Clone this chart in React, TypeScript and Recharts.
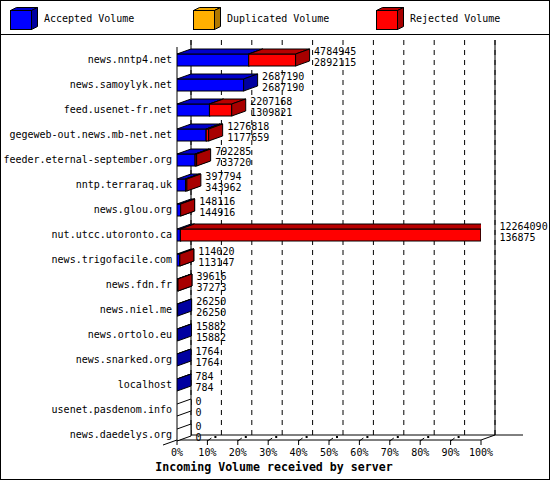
import { BarChart, Bar, XAxis, YAxis, CartesianGrid, LabelList } from "recharts";

const HOSTS = [
    "news.nntp4.net", "news.samoylyk.net", "feed.usenet-fr.net", "gegeweb-out.news.mb-net.net",
    "feeder.eternal-september.org", "nntp.terraraq.uk", "news.glou.org", "nut.utcc.utoronto.ca",
    "news.trigofacile.com", "news.fdn.fr", "news.niel.me", "news.ortolo.eu",
    "news.snarked.org", "localhost", "usenet.pasdenom.info", "news.daedelys.org",
];
const TOTAL = [4784945, 2687190, 2207168, 1276818, 792285, 397794, 148116, 12264090, 114020, 39616, 26250, 15882, 1764, 784, 0, 0];
const ACCEPTED = [2892115, 2687190, 1309821, 1177659, 733720, 343962, 144916, 136875, 113147, 37273, 26250, 15882, 1764, 784, 0, 0];
const DUPLICATED = [0, 0, 0, 0, 0, 0, 0, 0, 0, 0, 0, 0, 0, 0, 0, 0];
const PCT_TICKS = [0, 10, 20, 30, 40, 50, 60, 70, 80, 90, 100];
const TITLE = "Incoming Volume received by server";

const SERIES = [
    { key: "accepted", name: "Accepted Volume", front: "#0000ff", top: "#0000cc", side: "#0000a0" },
    { key: "duplicated", name: "Duplicated Volume", front: "#ffb000", top: "#f0a800", side: "#b07800" },
    { key: "rejected", name: "Rejected Volume", front: "#ff0000", top: "#b80000", side: "#a80000" },
];

const MAX = Math.max(...TOTAL);
const data = HOSTS.map((host, i) => ({
    host,
    total: TOTAL[i],
    accepted: (ACCEPTED[i] / MAX) * 100,
    duplicated: (DUPLICATED[i] / MAX) * 100,
    rejected: ((TOTAL[i] - ACCEPTED[i] - DUPLICATED[i]) / MAX) * 100,
}));

// layout
const W = 550, H = 480;
const Y_AXIS_W = 177;
const MARGIN = { top: 47, right: 69, bottom: 0, left: 0 };
const X_AXIS_H = 33;
const DX = 14, DY = 5;
const BACK_TOP = 40, BACK_BOTTOM = 435, FRONT_BASE = 440;
const PLOT_L = MARGIN.left + Y_AXIS_W;
const PLOT_R = W - MARGIN.right;
const FONT = "'DejaVu Sans Mono', monospace";

function Box3D(p: any) {
    const { x, y, height: h, payload, colors, last } = p;
    const w = Math.max(0, p.width || 0);
    if (!(payload[colors.key] > 0)) {
        if (last && payload.total === 0) {
            return (
                <polygon points={`${x},${y} ${x + DX},${y - DY} ${x + DX},${y + h - DY} ${x},${y + h}`}
                    fill="#fff" stroke="#000" />
            );
        }
        return <g />;
    }
    return (
        <g stroke="#000" strokeWidth={1}>
            {w > 0.5 && <rect x={x} y={y} width={w} height={h} fill={colors.front} />}
            <polygon points={`${x},${y} ${x + DX},${y - DY} ${x + w + DX},${y - DY} ${x + w},${y}`} fill={colors.top} />
            <polygon points={`${x + w},${y} ${x + w + DX},${y - DY} ${x + w + DX},${y + h - DY} ${x + w},${y + h}`} fill={colors.side} />
        </g>
    );
}

function ValueLabel(p: any) {
    const { x, y, width, height, index } = p;
    const tx = x + width + 18.5;
    const cy = y + height / 2;
    return (
        <g fontFamily={FONT} fontSize={10} fill="#000">
            <text x={tx} y={cy - 5.5}>{TOTAL[index]}</text>
            <text x={tx} y={cy + 5.5}>{ACCEPTED[index]}</text>
        </g>
    );
}

function HostTick(p: any) {
    return (
        <text x={p.x} y={p.y + 3.5} textAnchor="end" fontFamily={FONT} fontSize={10} fill="#000">
            {p.payload.value}
        </text>
    );
}

function PctTick(p: any) {
    const x = p.x;
    return (
        <g>
            <line x1={x} y1={FRONT_BASE} x2={x} y2={FRONT_BASE + 5} stroke="#000" />
            {p.payload.value > 0 && p.payload.value < 100 && (
                <>
                    <line x1={x} y1={FRONT_BASE + 1} x2={x + 4} y2={FRONT_BASE - 2} stroke="#000" />
                    <rect x={x + 7} y={FRONT_BASE - 4} width={2} height={2} fill="#000" />
                </>
            )}
            <text x={x} y={456} textAnchor="middle" fontFamily={FONT} fontSize={10} fill="#000">
                {p.payload.value}%
            </text>
        </g>
    );
}

const gridLine = (p: any) => (
    <line key={p.key ?? p.index} x1={p.x1 + DX} x2={p.x2 + DX} y1={BACK_TOP} y2={BACK_BOTTOM}
        stroke="#000" strokeDasharray="5 5" />
);

function LegendCube({ c }: { c: typeof SERIES[number] }) {
    return (
        <svg width={30} height={24} style={{ display: "block" }}>
            <polygon points="1.5,4.5 7.5,1.5 28.5,1.5 22.5,4.5" fill={c.top} stroke="#000" />
            <polygon points="22.5,4.5 28.5,1.5 28.5,20.5 22.5,23.5" fill={c.side} stroke="#000" />
            <rect x={1.5} y={4.5} width={21} height={19} fill={c.front} stroke="#000" />
        </svg>
    );
}

export default function App() {
    return (
        <div style={{ position: "relative", width: W, height: H, background: "#fff", overflow: "hidden" }}>
            <style>{"body{margin:0}"}</style>
            {/* frame behind the bars */}
            <svg width={W} height={H} style={{ position: "absolute", left: 0, top: 0 }}>
                <g stroke="#000" strokeWidth={1}>
                    <line x1={0} y1={34.5} x2={W} y2={34.5} />
                    <line x1={PLOT_L + DX} y1={BACK_TOP} x2={PLOT_L + DX} y2={BACK_BOTTOM} />
                    <line x1={PLOT_R + DX} y1={BACK_TOP} x2={PLOT_R + DX} y2={BACK_BOTTOM} />
                    <line x1={PLOT_L + DX} y1={BACK_BOTTOM} x2={PLOT_R + DX + 28} y2={BACK_BOTTOM} />
                    <line x1={PLOT_L} y1={FRONT_BASE} x2={PLOT_R} y2={FRONT_BASE} />
                    <line x1={PLOT_R} y1={FRONT_BASE} x2={PLOT_R + DX} y2={BACK_BOTTOM} />
                    <line x1={PLOT_L - DX} y1={FRONT_BASE + DY} x2={PLOT_L + DX} y2={BACK_BOTTOM} />
                    <line x1={PLOT_L} y1={MARGIN.top} x2={PLOT_L} y2={FRONT_BASE} />
                </g>
                <text x={274} y={471} textAnchor="middle" fontFamily={FONT} fontSize={11.6} fontWeight="bold" fill="#000">
                    {TITLE}
                </text>
            </svg>

            {/* legend */}
            {SERIES.map((s, i) => (
                <div key={s.key} style={{ position: "absolute", left: 9 + i * 183, top: 6, display: "flex", alignItems: "center" }}>
                    <LegendCube c={s} />
                    <span style={{ marginLeft: 5, fontFamily: FONT, fontSize: 10, color: "#000" }}>{s.name}</span>
                </div>
            ))}

            <div style={{ position: "absolute", left: 0, top: 0 }}>
                <BarChart width={W} height={H} data={data} layout="vertical" margin={MARGIN} barSize={12}>
                    <CartesianGrid horizontal={false} vertical={gridLine} />
                    <XAxis type="number" domain={[0, 100]} ticks={PCT_TICKS} interval={0} height={X_AXIS_H}
                        axisLine={false} tickLine={false} tick={PctTick} allowDataOverflow />
                    <YAxis type="category" dataKey="host" width={Y_AXIS_W} interval={0}
                        axisLine={false} tickLine={false} tickSize={0} tickMargin={5} tick={HostTick} />
                    {SERIES.map((s, i) => (
                        <Bar key={s.key} dataKey={s.key} stackId="v" isAnimationActive={false}
                            shape={(p: any) => <Box3D {...p} colors={s} last={i === SERIES.length - 1} />}>
                            {i === SERIES.length - 1 && <LabelList dataKey={s.key} content={ValueLabel} />}
                        </Bar>
                    ))}
                </BarChart>
            </div>

            <div style={{ position: "absolute", left: 0, top: 0, width: W, height: H, boxSizing: "border-box", border: "1px solid #000", pointerEvents: "none" }} />
        </div>
    );
}
